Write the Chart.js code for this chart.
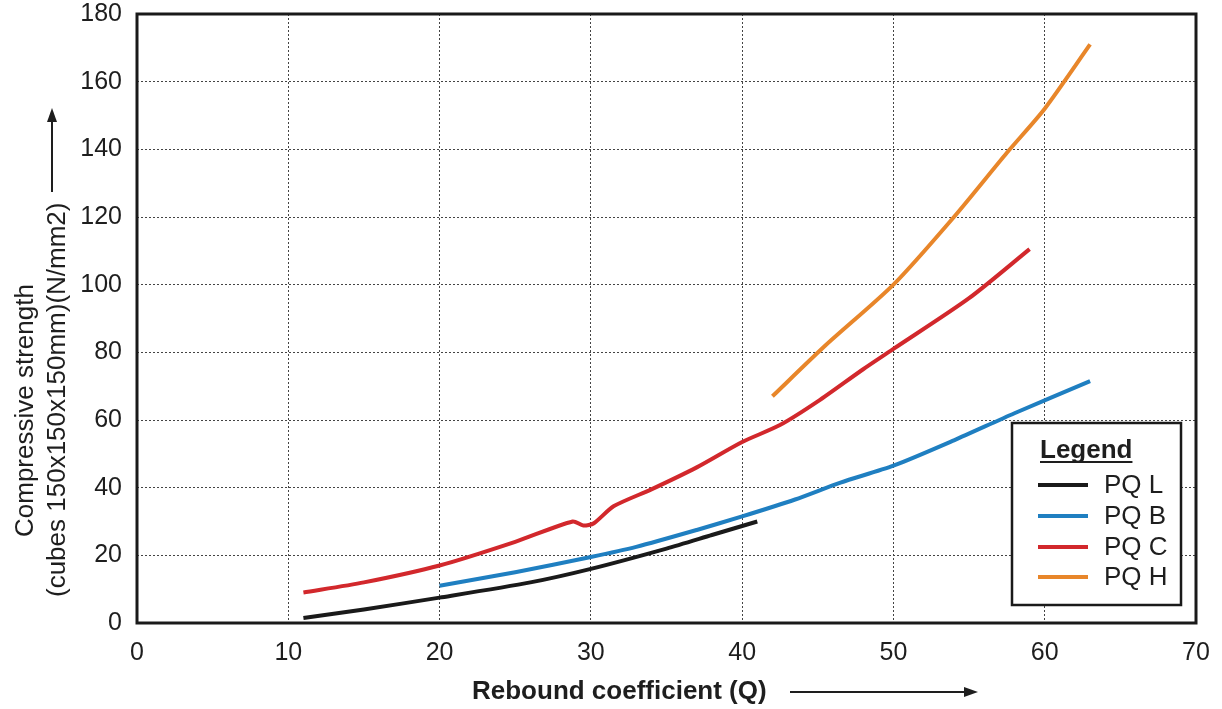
<!DOCTYPE html>
<html>
<head>
<meta charset="utf-8">
<script src="https://cdn.jsdelivr.net/npm/chart.js@4.4.0/dist/chart.umd.min.js"></script>
<style>
    body { margin: 0; background: #fff; }
    #wrap { width: 1222px; height: 709px; position: relative; }
</style>
</head>
<body>
<div id="wrap"><canvas id="chart"></canvas></div>
<script>
// Data
const seriesNames = ['PQ L', 'PQ B', 'PQ C', 'PQ H'];
const seriesColors = ['#1a1a1a', '#1f7fc1', '#d2282c', '#e8862a'];

const pqLx = [11, 15, 20, 26, 30, 35, 38, 41];
const pqLy = [1.5, 4, 7.5, 12, 16, 22, 26, 30];

const pqBx = [20, 25, 30, 33, 37, 40, 43.5, 46.5, 50, 54, 58, 63];
const pqBy = [11, 15, 19.5, 22.5, 27.5, 31.5, 36.5, 41.5, 46.5, 54, 62, 71.5];

const pqCx = [11, 15, 20, 25, 28.8, 29.5, 30.2, 31.5, 34, 37, 40, 42.5, 45, 48, 50, 55, 59];
const pqCy = [9, 12, 17, 24, 30, 28.8, 29.5, 34.5, 39.5, 46, 53.5, 58.5, 65.5, 75, 81, 96, 110.5];

const pqHx = [42, 45.5, 50, 54, 57.5, 60, 63];
const pqHy = [67, 82, 100, 120, 139, 152, 171];

const xTicks = [0, 10, 20, 30, 40, 50, 60, 70];
const yTicks = [0, 20, 40, 60, 80, 100, 120, 140, 160, 180];

const xTitle = 'Rebound coefficient (Q)';
const yTitle1 = 'Compressive strength';
const yTitle2 = '(cubes 150x150x150mm)(N/mm2)';
const legendTitle = 'Legend';

const FONT = '"Liberation Sans", Arial, sans-serif';
const TEXT = '#1e1e1e';

function zip(xs, ys) {
    return xs.map((x, i) => ({ x: x, y: ys[i] }));
}

const allX = [pqLx, pqBx, pqCx, pqHx];
const allY = [pqLy, pqBy, pqCy, pqHy];

const datasets = seriesNames.map((name, i) => ({
    label: name,
    data: zip(allX[i], allY[i]),
    borderColor: seriesColors[i],
    borderWidth: 4,
    pointRadius: 0,
    tension: 0.25,
    fill: false
}));

function arrow(ctx, x1, y1, x2, y2) {
    const ang = Math.atan2(y2 - y1, x2 - x1);
    ctx.beginPath();
    ctx.moveTo(x1, y1);
    ctx.lineTo(x2 - 10 * Math.cos(ang), y2 - 10 * Math.sin(ang));
    ctx.lineWidth = 2;
    ctx.strokeStyle = TEXT;
    ctx.stroke();
    ctx.beginPath();
    ctx.moveTo(x2, y2);
    ctx.lineTo(x2 - 14 * Math.cos(ang) + 5 * Math.sin(ang), y2 - 14 * Math.sin(ang) - 5 * Math.cos(ang));
    ctx.lineTo(x2 - 14 * Math.cos(ang) - 5 * Math.sin(ang), y2 - 14 * Math.sin(ang) + 5 * Math.cos(ang));
    ctx.closePath();
    ctx.fillStyle = TEXT;
    ctx.fill();
}

// Frame, titles, arrows and the boxed legend
const decorations = {
    id: 'decorations',
    afterDraw(chart) {
        const ctx = chart.ctx;
        const a = chart.chartArea;
        ctx.save();

        ctx.lineWidth = 3;
        ctx.strokeStyle = '#1a1a1a';
        ctx.strokeRect(a.left, a.top, a.right - a.left, a.bottom - a.top);

        // x title + arrow
        ctx.fillStyle = TEXT;
        ctx.font = 'bold 26px ' + FONT;
        ctx.textAlign = 'left';
        ctx.textBaseline = 'middle';
        ctx.fillText(xTitle, 472, 692);
        arrow(ctx, 790, 692, 978, 692);

        // y title (two lines) + arrow
        ctx.save();
        ctx.rotate(-Math.PI / 2);
        ctx.font = '26px ' + FONT;
        ctx.textBaseline = 'alphabetic';
        ctx.textAlign = 'left';
        ctx.fillText(yTitle1, -537, 33);
        ctx.fillText(yTitle2, -597, 65);
        ctx.restore();
        arrow(ctx, 52, 192, 52, 108);

        // legend
        const lx = 1012, ly = 423, lw = 169, lh = 182;
        ctx.fillStyle = '#fff';
        ctx.fillRect(lx, ly, lw, lh);
        ctx.lineWidth = 2.5;
        ctx.strokeStyle = '#1a1a1a';
        ctx.strokeRect(lx, ly, lw, lh);

        ctx.fillStyle = TEXT;
        ctx.font = 'bold 26px ' + FONT;
        ctx.textAlign = 'left';
        ctx.textBaseline = 'alphabetic';
        ctx.fillText(legendTitle, 1040, 458);
        const tw = ctx.measureText(legendTitle).width;
        ctx.fillRect(1040, 461, tw, 2);

        ctx.font = '26px ' + FONT;
        ctx.textBaseline = 'middle';
        const rows = [485, 516, 547, 577];
        seriesNames.forEach((name, i) => {
            ctx.beginPath();
            ctx.moveTo(1038, rows[i]);
            ctx.lineTo(1088, rows[i]);
            ctx.lineWidth = 4;
            ctx.strokeStyle = seriesColors[i];
            ctx.stroke();
            ctx.fillStyle = TEXT;
            ctx.fillText(name, 1104, rows[i] + 1);
        });

        ctx.restore();
    }
};

new Chart(document.getElementById('chart'), {
    type: 'line',
    data: { datasets: datasets },
    options: {
        responsive: true,
        maintainAspectRatio: false,
        animation: false,
        layout: { padding: { left: 0, top: 14, right: 26, bottom: 0 } },
        plugins: {
            legend: { display: false },
            tooltip: { enabled: false }
        },
        scales: {
            x: {
                type: 'linear',
                min: xTicks[0],
                max: xTicks[xTicks.length - 1],
                afterBuildTicks: s => { s.ticks = xTicks.map(v => ({ value: v })); },
                afterFit: s => { s.height = 86; s.paddingLeft = 0; s.paddingRight = 0; },
                ticks: { color: TEXT, padding: 15, font: { family: FONT, size: 25 }, maxRotation: 0 },
                grid: { color: '#444', lineWidth: 1, drawTicks: false },
                border: { display: false, dash: [2, 2] }
            },
            y: {
                type: 'linear',
                min: yTicks[0],
                max: yTicks[yTicks.length - 1],
                afterBuildTicks: s => { s.ticks = yTicks.map(v => ({ value: v })); },
                afterFit: s => { s.width = 137; s.paddingTop = 0; s.paddingBottom = 0; },
                ticks: { color: TEXT, padding: 15, font: { family: FONT, size: 25 } },
                grid: { color: '#444', lineWidth: 1, drawTicks: false },
                border: { display: false, dash: [2, 2] }
            }
        }
    },
    plugins: [decorations]
});
</script>
</body>
</html>
